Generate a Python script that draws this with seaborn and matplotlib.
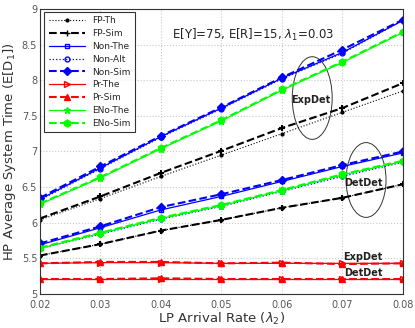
import matplotlib
matplotlib.use("Agg")
import matplotlib.pyplot as plt
from matplotlib.patches import Ellipse
from matplotlib.lines import Line2D
import seaborn as sns
import pandas as pd

sns.set_style("whitegrid")
plt.rcParams['font.family'] = ['DejaVu Sans']

x = [0.02, 0.03, 0.04, 0.05, 0.06, 0.07, 0.08]
series_names = ["FP-Th", "FP-Sim", "Non-The", "Non-Alt", "Non-Sim",
                "Pr-The", "Pr-Sim", "ENo-The", "ENo-Sim"]

# ExpDet scenario
exp_fp_th = [6.04, 6.34, 6.65, 6.95, 7.25, 7.55, 7.85]
exp_fp_sim = [6.06, 6.37, 6.70, 7.01, 7.33, 7.61, 7.96]
exp_non_the = [6.33, 6.77, 7.21, 7.61, 8.03, 8.39, 8.84]
exp_non_alt = [6.32, 6.76, 7.20, 7.60, 8.02, 8.38, 8.84]
exp_non_sim = [6.35, 6.79, 7.22, 7.62, 8.04, 8.43, 8.85]
exp_pr_the = [5.43, 5.44, 5.44, 5.43, 5.43, 5.43, 5.43]
exp_pr_sim = [5.43, 5.45, 5.45, 5.43, 5.44, 5.42, 5.43]
exp_eno_the = [6.26, 6.63, 7.04, 7.43, 7.86, 8.25, 8.67]
exp_eno_sim = [6.27, 6.64, 7.05, 7.44, 7.87, 8.26, 8.68]

# DetDet scenario
det_fp_th = [5.54, 5.70, 5.89, 6.04, 6.21, 6.35, 6.54]
det_fp_sim = [5.54, 5.70, 5.89, 6.04, 6.21, 6.35, 6.54]
det_non_the = [5.69, 5.93, 6.18, 6.37, 6.58, 6.79, 6.98]
det_non_alt = [5.64, 5.84, 6.05, 6.23, 6.44, 6.65, 6.85]
det_non_sim = [5.71, 5.95, 6.22, 6.40, 6.60, 6.81, 7.00]
det_pr_the = [5.21, 5.21, 5.21, 5.21, 5.21, 5.21, 5.21]
det_pr_sim = [5.21, 5.21, 5.22, 5.21, 5.21, 5.21, 5.21]
det_eno_the = [5.64, 5.85, 6.06, 6.24, 6.45, 6.67, 6.86]
det_eno_sim = [5.65, 5.86, 6.07, 6.25, 6.46, 6.68, 6.87]

exp_vals = [exp_fp_th, exp_fp_sim, exp_non_the, exp_non_alt, exp_non_sim,
            exp_pr_the, exp_pr_sim, exp_eno_the, exp_eno_sim]
det_vals = [det_fp_th, det_fp_sim, det_non_the, det_non_alt, det_non_sim,
            det_pr_the, det_pr_sim, det_eno_the, det_eno_sim]

GREEN = "#00ff00"
styles = {
    "FP-Th":   dict(color="black", ls=":", marker=".", lw=0.8, ms=4, mfc="black"),
    "FP-Sim":  dict(color="black", ls="--", marker="+", lw=1.5, ms=5, mfc="black", mew=1.5),
    "Non-The": dict(color="blue", ls="-", marker="s", lw=0.9, ms=3.5, mfc="none"),
    "Non-Alt": dict(color="blue", ls=":", marker="o", lw=0.9, ms=3.5, mfc="none"),
    "Non-Sim": dict(color="blue", ls="--", marker="D", lw=1.5, ms=4.5, mfc="blue"),
    "Pr-The":  dict(color="red", ls="-", marker=">", lw=0.9, ms=4, mfc="none"),
    "Pr-Sim":  dict(color="red", ls="--", marker="^", lw=1.5, ms=5, mfc="red"),
    "ENo-The": dict(color=GREEN, ls="-", marker="*", lw=0.9, ms=5, mfc=GREEN),
    "ENo-Sim": dict(color=GREEN, ls="--", marker="h", lw=1.5, ms=5, mfc=GREEN),
}

fig = plt.figure(figsize=(4.15, 3.28), dpi=100)
ax = fig.add_axes([0.0964, 0.1037, 0.8746, 0.8689])

for name, ev, dv in zip(series_names, exp_vals, det_vals):
    st = styles[name]
    for vals in (ev, dv):
        df = pd.DataFrame({"x": x, "y": vals})
        sns.lineplot(data=df, x="x", y="y", ax=ax, color=st["color"],
                     linestyle=st["ls"], marker=st["marker"], lw=st["lw"],
                     markersize=st["ms"], markerfacecolor=st["mfc"],
                     markeredgecolor=st["color"], markeredgewidth=st.get("mew", 1.0),
                     legend=False)

ax.set_xlim(0.02, 0.08)
ax.set_ylim(5, 9)
ax.set_xticks(x)
ax.set_xticklabels(["0.02", "0.03", "0.04", "0.05", "0.06", "0.07", "0.08"])
ax.set_yticks([5, 5.5, 6, 6.5, 7, 7.5, 8, 8.5, 9])
ax.set_yticklabels(["5", "5.5", "6", "6.5", "7", "7.5", "8", "8.5", "9"])
ax.tick_params(axis="y", labelsize=7, colors="#555555", length=3, direction="in", pad=2)
ax.tick_params(axis="x", labelsize=7, colors="#555555", length=3, direction="in", pad=4)
ax.grid(True, color="#c8c8c8", linestyle=":", linewidth=0.8)
for sp in ax.spines.values():
    sp.set_color("#333333")
    sp.set_linewidth(0.8)
ax.set_xlabel("LP Arrival Rate ($\\lambda_2$)", fontsize=9.5, color="#333333", labelpad=1)
ax.set_ylabel("HP Average System Time (E[D$_1$])", fontsize=9.5, color="#333333", labelpad=3)

handles = [Line2D([0], [0], color=styles[n]["color"], linestyle=styles[n]["ls"],
                  marker=styles[n]["marker"], lw=styles[n]["lw"],
                  markersize=styles[n]["ms"], markerfacecolor=styles[n]["mfc"],
                  markeredgecolor=styles[n]["color"]) for n in series_names]
leg = ax.legend(handles, series_names, loc="upper left", fontsize=6.5,
                frameon=True, fancybox=False, edgecolor="black",
                bbox_to_anchor=(0.012, 0.99), borderaxespad=0.0,
                handlelength=4.0, labelspacing=0.42, borderpad=0.5)
leg.get_frame().set_linewidth(0.8)

ax.text(0.0418, 8.64, "E[Y]=75, E[R]=15, $\\lambda_1$=0.03", fontsize=8.5,
        color="#222222", va="center", ha="left")

ax.add_patch(Ellipse((0.0650, 7.75), 0.0066, 1.16, fill=False, ec="#333333", lw=0.7))
ax.add_patch(Ellipse((0.0739, 6.60), 0.0066, 1.05, fill=False, ec="#333333", lw=0.7))
ax.text(0.0648, 7.72, "ExpDet", fontsize=7, fontweight="bold", ha="center", va="center", color="#222222")
ax.text(0.0734, 6.56, "DetDet", fontsize=7, fontweight="bold", ha="center", va="center", color="#222222")
ax.text(0.0734, 5.52, "ExpDet", fontsize=7, fontweight="bold", ha="center", va="center", color="#222222")
ax.text(0.0734, 5.30, "DetDet", fontsize=7, fontweight="bold", ha="center", va="center", color="#222222")

fig.savefig("out.png", dpi=100)
